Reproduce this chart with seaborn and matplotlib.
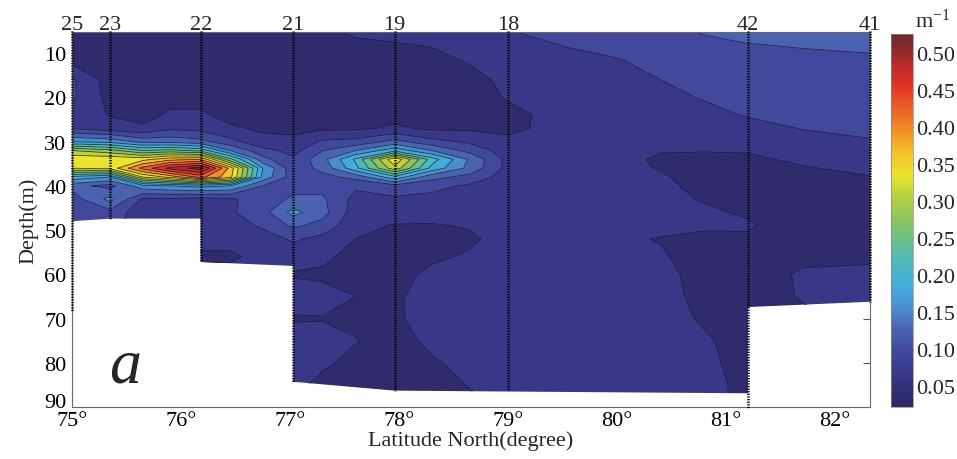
import numpy as np
import matplotlib
matplotlib.use("Agg")
import matplotlib.pyplot as plt
import matplotlib.transforms as mtransforms
from matplotlib.colors import LinearSegmentedColormap, Normalize
from matplotlib.patches import Polygon
import seaborn as sns

# ---------------- data ----------------
lat_cols = [75.00, 75.35, 75.65, 75.90, 76.18, 76.45, 76.75, 77.03, 77.30, 77.60,
            77.96, 78.30, 78.65, 79.00, 79.50, 80.00, 80.40, 80.80, 81.20, 81.70, 82.32]
depth_rows = [5, 8, 12, 16, 20, 24, 27, 30, 32, 34, 36, 38, 40, 43, 46, 49, 52,
              56, 60, 65, 70, 75, 80, 85, 90]

# attenuation (m^-1) profiles, one list per latitude column (values at depth_rows)
c_7500 = [0.030, 0.035, 0.045, 0.085, 0.085, 0.070, 0.078, 0.170, 0.290, 0.345, 0.320, 0.190, 0.120, 0.095, 0.090, 0.085, 0.080, 0.075, 0.070, 0.070, 0.070, 0.070, 0.070, 0.070, 0.070]
c_7535 = [0.030, 0.030, 0.030, 0.035, 0.040, 0.048, 0.065, 0.160, 0.270, 0.345, 0.330, 0.170, 0.100, 0.150, 0.100, 0.090, 0.085, 0.080, 0.075, 0.070, 0.070, 0.070, 0.070, 0.070, 0.070]
c_7565 = [0.030, 0.030, 0.030, 0.030, 0.035, 0.040, 0.055, 0.130, 0.230, 0.340, 0.420, 0.320, 0.160, 0.075, 0.060, 0.065, 0.065, 0.065, 0.065, 0.065, 0.065, 0.065, 0.065, 0.065, 0.065]
c_7590 = [0.030, 0.030, 0.030, 0.030, 0.040, 0.055, 0.075, 0.130, 0.240, 0.370, 0.480, 0.360, 0.170, 0.075, 0.060, 0.065, 0.065, 0.065, 0.065, 0.065, 0.065, 0.065, 0.065, 0.065, 0.065]
c_7618 = [0.030, 0.030, 0.030, 0.030, 0.040, 0.055, 0.070, 0.120, 0.220, 0.380, 0.515, 0.420, 0.180, 0.070, 0.065, 0.060, 0.060, 0.045, 0.060, 0.060, 0.060, 0.060, 0.060, 0.060, 0.060]
c_7645 = [0.030, 0.030, 0.030, 0.030, 0.035, 0.040, 0.055, 0.090, 0.140, 0.240, 0.370, 0.360, 0.170, 0.075, 0.075, 0.065, 0.060, 0.045, 0.060, 0.060, 0.060, 0.060, 0.060, 0.060, 0.060]
c_7675 = [0.030, 0.030, 0.030, 0.030, 0.035, 0.040, 0.045, 0.060, 0.090, 0.120, 0.170, 0.160, 0.110, 0.095, 0.100, 0.085, 0.065, 0.060, 0.060, 0.060, 0.060, 0.060, 0.060, 0.060, 0.060]
c_7703 = [0.030, 0.030, 0.030, 0.030, 0.035, 0.040, 0.045, 0.055, 0.070, 0.085, 0.090, 0.095, 0.100, 0.115, 0.150, 0.115, 0.085, 0.060, 0.048, 0.060, 0.048, 0.060, 0.058, 0.055, 0.050]
c_7730 = [0.045, 0.035, 0.030, 0.030, 0.030, 0.035, 0.045, 0.085, 0.110, 0.130, 0.120, 0.100, 0.100, 0.115, 0.120, 0.100, 0.070, 0.055, 0.046, 0.058, 0.049, 0.058, 0.053, 0.045, 0.040]
c_7760 = [0.055, 0.045, 0.030, 0.030, 0.030, 0.035, 0.045, 0.090, 0.140, 0.205, 0.190, 0.120, 0.085, 0.070, 0.065, 0.058, 0.050, 0.042, 0.042, 0.050, 0.045, 0.051, 0.045, 0.040, 0.040]
c_7796 = [0.060, 0.048, 0.040, 0.035, 0.030, 0.040, 0.055, 0.120, 0.190, 0.345, 0.310, 0.190, 0.100, 0.075, 0.065, 0.048, 0.040, 0.040, 0.042, 0.047, 0.047, 0.043, 0.040, 0.040, 0.040]
c_7830 = [0.065, 0.052, 0.040, 0.035, 0.030, 0.035, 0.045, 0.090, 0.140, 0.215, 0.190, 0.120, 0.090, 0.070, 0.060, 0.048, 0.042, 0.046, 0.055, 0.058, 0.058, 0.054, 0.048, 0.042, 0.040]
c_7865 = [0.070, 0.060, 0.052, 0.040, 0.035, 0.035, 0.045, 0.075, 0.100, 0.135, 0.130, 0.100, 0.075, 0.065, 0.060, 0.052, 0.046, 0.053, 0.058, 0.060, 0.060, 0.060, 0.055, 0.051, 0.046]
c_7900 = [0.079, 0.070, 0.065, 0.058, 0.053, 0.040, 0.042, 0.058, 0.065, 0.070, 0.070, 0.065, 0.062, 0.060, 0.060, 0.060, 0.060, 0.060, 0.060, 0.060, 0.060, 0.060, 0.060, 0.058, 0.055]
c_7950 = [0.090, 0.081, 0.072, 0.068, 0.065, 0.063, 0.062, 0.062, 0.062, 0.062, 0.062, 0.062, 0.062, 0.062, 0.062, 0.062, 0.062, 0.062, 0.062, 0.062, 0.062, 0.062, 0.062, 0.062, 0.060]
c_8000 = [0.100, 0.090, 0.077, 0.070, 0.067, 0.065, 0.063, 0.062, 0.060, 0.060, 0.060, 0.060, 0.060, 0.060, 0.060, 0.058, 0.053, 0.055, 0.060, 0.060, 0.060, 0.060, 0.060, 0.060, 0.060]
c_8040 = [0.105, 0.100, 0.090, 0.080, 0.072, 0.067, 0.062, 0.058, 0.052, 0.045, 0.048, 0.053, 0.056, 0.058, 0.058, 0.056, 0.049, 0.052, 0.058, 0.060, 0.060, 0.060, 0.060, 0.060, 0.060]
c_8080 = [0.112, 0.105, 0.100, 0.090, 0.082, 0.072, 0.065, 0.058, 0.051, 0.045, 0.040, 0.040, 0.042, 0.048, 0.054, 0.052, 0.047, 0.042, 0.040, 0.042, 0.047, 0.053, 0.055, 0.056, 0.056]
c_8120 = [0.125, 0.109, 0.100, 0.095, 0.090, 0.082, 0.070, 0.058, 0.052, 0.045, 0.040, 0.035, 0.035, 0.040, 0.047, 0.053, 0.046, 0.040, 0.038, 0.037, 0.037, 0.040, 0.042, 0.045, 0.045]
c_8170 = [0.130, 0.113, 0.100, 0.095, 0.092, 0.087, 0.081, 0.070, 0.062, 0.055, 0.048, 0.040, 0.035, 0.033, 0.033, 0.035, 0.038, 0.045, 0.053, 0.052, 0.045, 0.040, 0.040, 0.040, 0.040]
c_8232 = [0.130, 0.120, 0.100, 0.098, 0.095, 0.091, 0.086, 0.078, 0.070, 0.063, 0.056, 0.049, 0.040, 0.035, 0.035, 0.037, 0.040, 0.046, 0.055, 0.056, 0.056, 0.056, 0.056, 0.056, 0.056]

# CTD stations
station_names = ["25", "23", "22", "21", "19", "18", "42", "41"]
station_lat = [75.00, 75.35, 76.18, 77.03, 77.96, 79.00, 81.20, 82.32]
station_maxdepth = [68.3, 47.5, 57.3, 84.3, 86.4, 86.2, 90.5, 66.3]

# sea-floor outline of the section
bottom_lat = [75.00, 75.35, 76.18, 76.18, 77.03, 77.03, 77.96, 79.00, 81.20, 81.20, 82.32]
bottom_depth = [48.0, 47.4, 47.4, 57.2, 58.1, 84.3, 86.3, 86.5, 86.9, 67.4, 66.2]

levels = [0.02, 0.05, 0.08, 0.11, 0.14, 0.17, 0.20, 0.23, 0.26, 0.29, 0.32,
          0.35, 0.38, 0.41, 0.44, 0.47, 0.50, 0.53]
cbar_ticks = [0.05, 0.10, 0.15, 0.20, 0.25, 0.30, 0.35, 0.40, 0.45, 0.50]
xticks = [75, 76, 77, 78, 79, 80, 81, 82]
yticks = [10, 20, 30, 40, 50, 60, 70, 80, 90]

# ---------------- style ----------------
sns.set_theme(style="white")
plt.rcParams["font.family"] = ["Liberation Serif", "DejaVu Serif"]
plt.rcParams["mathtext.fontset"] = "custom"
plt.rcParams["mathtext.rm"] = "Liberation Serif"
plt.rcParams["mathtext.it"] = "Liberation Serif:italic"

VMIN, VMAX = 0.022, 0.525
anchors = [(0.022, '#2c2868'), (0.035, '#2f2b6c'), (0.065, '#39388a'), (0.095, '#42489c'),
           (0.125, '#4a62b0'), (0.155, '#4a8ed0'), (0.185, '#45acdc'), (0.215, '#4bb9be'),
           (0.245, '#68c08e'), (0.275, '#8cc45e'), (0.305, '#b6d040'), (0.335, '#ebe42e'),
           (0.365, '#f4c02c'), (0.395, '#f09028'), (0.425, '#ea6226'), (0.455, '#e23428'),
           (0.485, '#b82a2a'), (0.515, '#7a2a2e'), (0.525, '#6e2a2e')]
cmap = LinearSegmentedColormap.from_list(
    "sect", [((v - VMIN) / (VMAX - VMIN), c) for v, c in anchors])
norm = Normalize(vmin=VMIN, vmax=VMAX)

fig = plt.figure(figsize=(9.57, 4.6), dpi=100)
fig.patch.set_facecolor("white")
W, H = 957.0, 460.0
ax = fig.add_axes([72 / W, 1 - 408 / H, (870 - 72) / W, (408 - 33) / H])
cax = fig.add_axes([891 / W, 1 - 408 / H, 22 / W, (408 - 35) / H])

Z = np.column_stack([c_7500, c_7535, c_7565, c_7590, c_7618, c_7645, c_7675, c_7703,
                     c_7730, c_7760, c_7796, c_7830, c_7865, c_7900, c_7950, c_8000,
                     c_8040, c_8080, c_8120, c_8170, c_8232])
X, Y = np.meshgrid(lat_cols, depth_rows)

verts = [(bottom_lat[0], depth_rows[0])] + list(zip(bottom_lat, bottom_depth)) + \
        [(bottom_lat[-1], depth_rows[0])]
clip = Polygon(verts, closed=True, transform=ax.transData, facecolor="none", edgecolor="none")
ax.add_patch(clip)

cf = ax.contourf(X, Y, Z, levels=levels, cmap=cmap, norm=norm)
cf.set_clip_path(clip)
cl = ax.contour(X, Y, Z, levels=levels, colors="#15152a", linewidths=0.55, alpha=0.85)
cl.set_clip_path(clip)

# station dotted lines
for lat_s, dmax in zip(station_lat, station_maxdepth):
    ax.plot([lat_s, lat_s], [depth_rows[0], dmax], color="black", lw=1.8,
            linestyle=(0, (0.5, 0.55)), clip_on=False, zorder=5)

trans = mtransforms.blended_transform_factory(ax.transData, ax.transAxes)
for name, lat_s in zip(station_names, station_lat):
    ax.text(lat_s, 1.008, name, transform=trans, ha="center", va="baseline", fontsize=16)

ax.set_xlim(75, 82.32)
ax.set_ylim(90, 5.2)
ax.set_xticks(xticks)
ax.set_xticklabels([f"{v}°" for v in xticks])
ax.set_yticks(yticks)
ax.tick_params(axis="both", direction="in", top=True, right=True, length=5, width=0.8,
               color="#555555", labelsize=16, labelcolor="black")
ax.tick_params(axis="x", pad=3)
ax.tick_params(axis="y", pad=4)
for sp in ax.spines.values():
    sp.set_color("#6a6a6a")
    sp.set_linewidth(0.8)
ax.set_facecolor("white")
ax.set_xlabel("Latitude North(degree)", fontsize=16, labelpad=0)
ax.set_ylabel("Depth(m)", fontsize=16, labelpad=4)

# lift the lowest depth label a little, as in the reference
last_lbl = ax.get_yticklabels()[-1]
last_lbl.set_transform(last_lbl.get_transform() +
                       mtransforms.ScaledTranslation(0, 5 / 72, fig.dpi_scale_trans))

ax.text(75.49, 84.3, "a", fontsize=46, style="italic", ha="center", va="baseline")

sm = matplotlib.cm.ScalarMappable(norm=norm, cmap=cmap)
cb = fig.colorbar(sm, cax=cax, ticks=cbar_ticks)
cb.ax.set_yticklabels([f"{t:.2f}" for t in cbar_ticks])
cb.ax.tick_params(direction="in", length=4, width=0.8, color="#444444", labelsize=16, pad=2)
cb.outline.set_linewidth(0.5)
cb.outline.set_edgecolor("#888888")
fig.text(915 / W, 1 - 21 / H, "m$^{-1}$", fontsize=16, ha="left", va="center")

fig.savefig("out.png", dpi=100)
